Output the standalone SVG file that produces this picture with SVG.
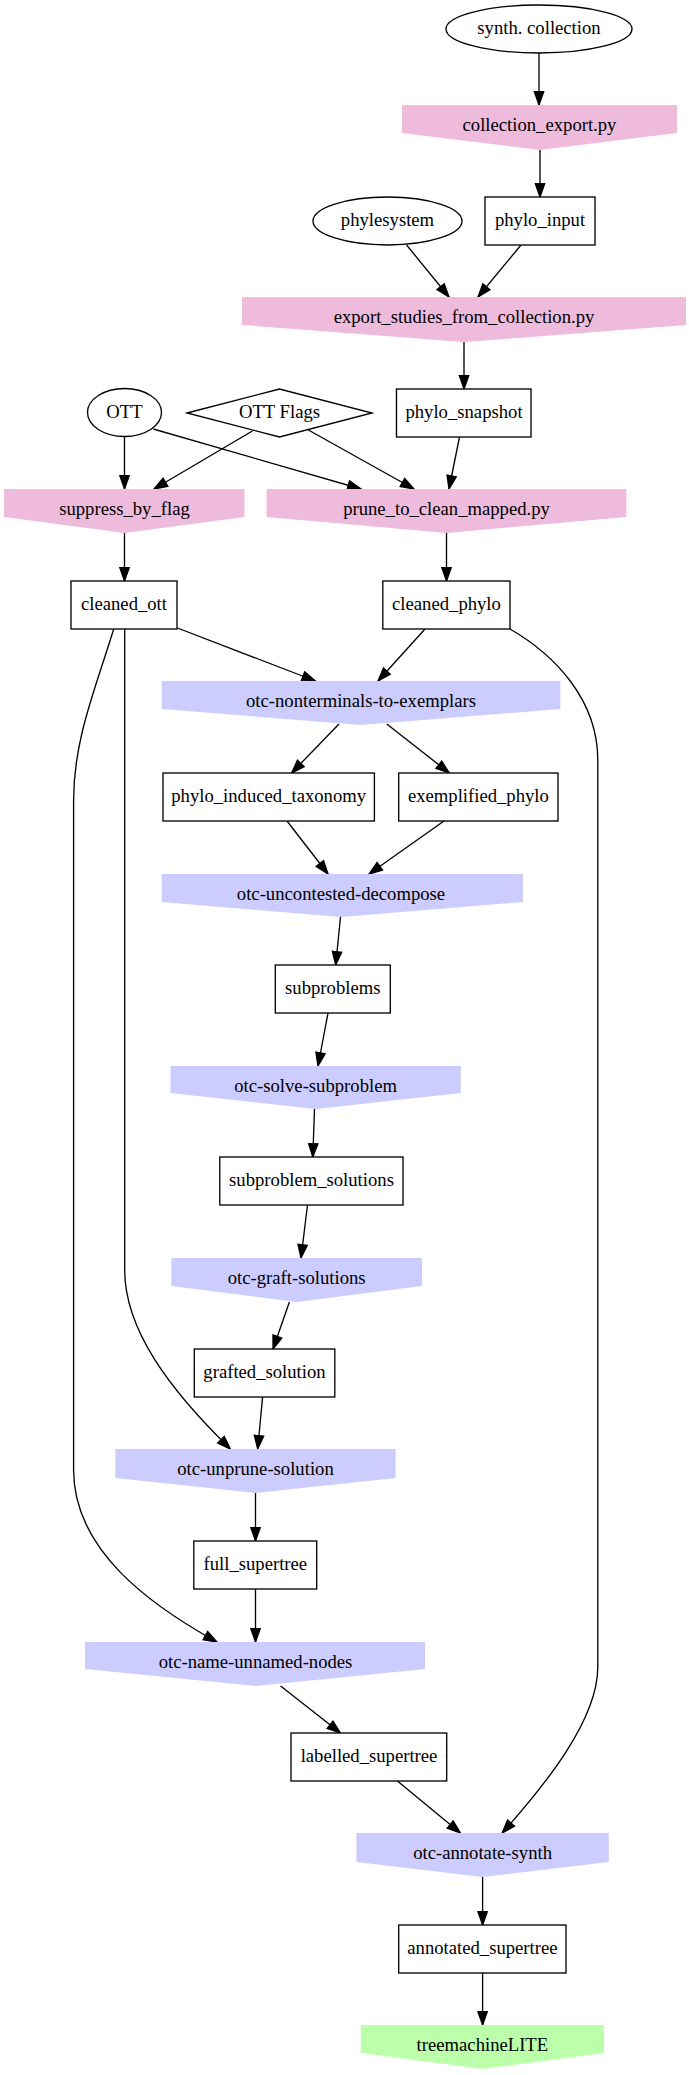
<svg xmlns="http://www.w3.org/2000/svg" width="689" height="2075" viewBox="0 0 689 2075">
<defs>
<style>
text{font-family:"Liberation Serif","Times New Roman",serif;font-size:18.67px;text-anchor:middle;fill:#000}
.box,.ell{fill:#fff;stroke:#000;stroke-width:1.33}
.pink{fill:#eebbdd}
.blue{fill:#ccccff}
.green{fill:#bbffaa}
.e{fill:none;stroke:#000;stroke-width:1.33;marker-end:url(#ah)}
</style>
<marker id="ah" markerUnits="userSpaceOnUse" markerWidth="16" markerHeight="12" viewBox="-1 -1 16 12" refX="13.3" refY="4.67" orient="auto">
<path d="M0,0 L13.3,4.67 L0,9.33 Z" fill="#000" stroke="#000" stroke-width="1.33"/>
</marker>
</defs>
<rect width="689" height="2075" fill="#fff"/>

<g id="edges">
<path class="e" d="M539,53 L539,105"/>
<path class="e" d="M540,150 L540,197"/>
<path class="e" d="M406.6,245 L449,297"/>
<path class="e" d="M521,245 L478,297"/>
<path class="e" d="M464,342 L464,389"/>
<path class="e" d="M124.5,436.5 L124.5,489"/>
<path class="e" d="M252.4,431 L154,489"/>
<path class="e" d="M153.3,429 L361,489"/>
<path class="e" d="M308.4,430 L414,489"/>
<path class="e" d="M459.5,437 L449,489"/>
<path class="e" d="M124.5,533 L124.5,581"/>
<path class="e" d="M446.5,533 L446.5,581"/>
<path class="e" d="M177.5,628 L315.4,681"/>
<path class="e" d="M425,629 L378,681"/>
<path class="e" d="M339,724 L291.6,773"/>
<path class="e" d="M386.8,724 L449.3,773"/>
<path class="e" d="M287,821 L328,874"/>
<path class="e" d="M444,821 L369,874"/>
<path class="e" d="M340.5,917 L335.7,965"/>
<path class="e" d="M328,1013 L318,1066"/>
<path class="e" d="M314.5,1109 L312.8,1157"/>
<path class="e" d="M307.5,1205 L301,1258"/>
<path class="e" d="M289.4,1302 L273,1349"/>
<path class="e" d="M262.6,1397 L257.7,1449"/>
<path class="e" d="M255.5,1493 L255.5,1541"/>
<path class="e" d="M255.5,1589 L255.5,1642"/>
<path class="e" d="M280.6,1686 L340.5,1733"/>
<path class="e" d="M397.4,1781 L460.4,1833"/>
<path class="e" d="M482.6,1877 L482.6,1925"/>
<path class="e" d="M482.6,1973 L482.6,2025"/>
<path class="e" d="M124.7,629 L124.7,1270 C124.7,1330 170,1390 230.4,1449"/>
<path class="e" d="M113.7,629 C95,690 73.6,740 73.6,800 L73.6,1470 C73.6,1550 150,1605 217,1642"/>
<path class="e" d="M510,629 C555,655 597.8,700 597.8,760 L597.8,1667 C597.8,1720 545,1785 502.2,1833"/>
</g>

<g id="synth_collection"><ellipse class="ell" cx="539" cy="29" rx="93" ry="24"/><text x="539" y="34">synth. collection</text></g>
<g id="collection_export"><path class="pink" d="M402,105 L677,105 L677,133 L539.5,150 L402,133 Z"/><text x="539.5" y="131">collection_export.py</text></g>
<g id="phylo_input"><rect class="box" x="485" y="197" width="110" height="48"/><text x="540" y="226">phylo_input</text></g>
<g id="phylesystem"><ellipse class="ell" cx="387.5" cy="221" rx="74.5" ry="24"/><text x="387.5" y="226">phylesystem</text></g>
<g id="export_studies"><path class="pink" d="M242,297 L686,297 L686,325 L464,342 L242,325 Z"/><text x="464" y="323">export_studies_from_collection.py</text></g>
<g id="phylo_snapshot"><rect class="box" x="396.5" y="389" width="134.5" height="48"/><text x="464" y="418">phylo_snapshot</text></g>
<g id="OTT"><ellipse class="ell" cx="124.5" cy="412.5" rx="37" ry="24"/><text x="124.5" y="417.5">OTT</text></g>
<g id="OTT_Flags"><path class="box" d="M187,413 L279.5,389 L372,413 L279.5,437 Z"/><text x="279.5" y="418">OTT Flags</text></g>
<g id="suppress_by_flag"><path class="pink" d="M4,489 L244.5,489 L244.5,517 L124.5,533 L4,517 Z"/><text x="124.5" y="515">suppress_by_flag</text></g>
<g id="prune_to_clean_mapped"><path class="pink" d="M266.5,489 L626.4,489 L626.4,517 L446.5,533 L266.5,517 Z"/><text x="446.5" y="515">prune_to_clean_mapped.py</text></g>
<g id="cleaned_ott"><rect class="box" x="71" y="581" width="106" height="48"/><text x="124" y="610">cleaned_ott</text></g>
<g id="cleaned_phylo"><rect class="box" x="382.8" y="581" width="127.2" height="48"/><text x="446.5" y="610">cleaned_phylo</text></g>
<g id="nonterminals"><path class="blue" d="M161.7,681 L560.4,681 L560.4,709 L361,725 L161.7,709 Z"/><text x="361" y="707">otc-nonterminals-to-exemplars</text></g>
<g id="phylo_induced_taxonomy"><rect class="box" x="163" y="773" width="211.4" height="48"/><text x="268.7" y="802">phylo_induced_taxonomy</text></g>
<g id="exemplified_phylo"><rect class="box" x="398.7" y="773" width="159.3" height="48"/><text x="478.4" y="802">exemplified_phylo</text></g>
<g id="uncontested"><path class="blue" d="M161.7,874 L523,874 L523,902 L341,917 L161.7,902 Z"/><text x="341" y="900">otc-uncontested-decompose</text></g>
<g id="subproblems"><rect class="box" x="275.3" y="965" width="115" height="48"/><text x="332.8" y="994">subproblems</text></g>
<g id="solve"><path class="blue" d="M170.5,1066 L460.8,1066 L460.8,1093 L315.6,1109 L170.5,1093 Z"/><text x="315.6" y="1092">otc-solve-subproblem</text></g>
<g id="subproblem_solutions"><rect class="box" x="219.8" y="1157" width="183.2" height="48"/><text x="311.5" y="1186">subproblem_solutions</text></g>
<g id="graft"><path class="blue" d="M171.4,1258 L422,1258 L422,1286 L296.7,1302 L171.4,1286 Z"/><text x="296.7" y="1284">otc-graft-solutions</text></g>
<g id="grafted_solution"><rect class="box" x="194.3" y="1349" width="140.5" height="48"/><text x="264.5" y="1378">grafted_solution</text></g>
<g id="unprune"><path class="blue" d="M115.4,1449 L395.6,1449 L395.6,1478 L255.5,1493 L115.4,1478 Z"/><text x="255.5" y="1475">otc-unprune-solution</text></g>
<g id="full_supertree"><rect class="box" x="193.8" y="1541" width="122.9" height="48"/><text x="255.3" y="1570">full_supertree</text></g>
<g id="name_unnamed"><path class="blue" d="M85,1642 L425,1642 L425,1669 L255.5,1686 L85,1669 Z"/><text x="255.5" y="1668">otc-name-unnamed-nodes</text></g>
<g id="labelled_supertree"><rect class="box" x="291" y="1733" width="155.7" height="48"/><text x="369" y="1762">labelled_supertree</text></g>
<g id="annotate_synth"><path class="blue" d="M356.4,1833 L608.8,1833 L608.8,1862 L482.6,1877 L356.4,1862 Z"/><text x="482.6" y="1859">otc-annotate-synth</text></g>
<g id="annotated_supertree"><rect class="box" x="398.7" y="1925" width="167.3" height="48"/><text x="482.4" y="1954">annotated_supertree</text></g>
<g id="treemachineLITE"><path class="green" d="M360.8,2025 L604,2025 L604,2053 L482.4,2069 L360.8,2053 Z"/><text x="482.4" y="2051">treemachineLITE</text></g>
</svg>
